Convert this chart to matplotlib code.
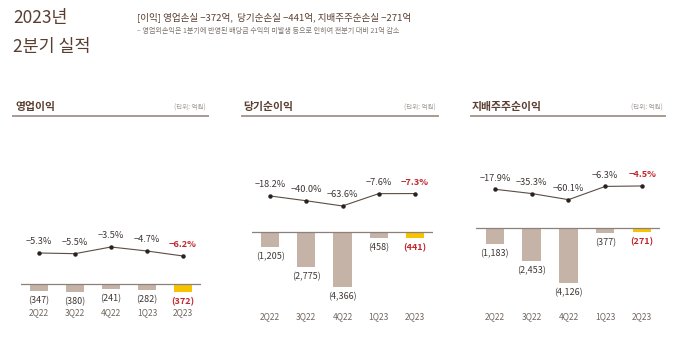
import matplotlib.pyplot as plt
import matplotlib.transforms as mtransforms

plt.rcParams['font.family'] = ['Noto Sans CJK KR', 'DejaVu Sans']

quarters = ['2Q22', '3Q22', '4Q22', '1Q23', '2Q23']

op_titles = ['영업이익', '당기순이익', '지배주주순이익']
op_values = [-347, -380, -241, -282, -372]
op_margin = [-5.3, -5.5, -3.5, -4.7, -6.2]
net_values = [-1205, -2775, -4366, -458, -441]
net_margin = [-18.2, -40.0, -63.6, -7.6, -7.3]
ctrl_values = [-1183, -2453, -4126, -377, -271]
ctrl_margin = [-17.9, -35.3, -60.1, -6.3, -4.5]

W, H = 680, 341
BROWN = '#5a3f31'
BAR = '#c5b3a8'
LAST = '#f7c300'
RED = '#c1272d'
TEXT = '#3f3835'

fig = plt.figure(figsize=(W / 100, H / 100), dpi=100)

# header
fig.text(13 / W, 1 - 18 / H, '2023년', fontsize=12.5, color=BROWN, va='center')
fig.text(13 / W, 1 - 47 / H, '2분기 실적', fontsize=12.5, color=BROWN, va='center')
fig.text(137 / W, 1 - 17 / H,
         '[이익] 영업손실 \u2212372억,  당기순손실 \u2212441억, 지배주주순손실 \u2212271억',
         fontsize=6.9, color=BROWN, va='center')
fig.text(137 / W, 1 - 31.5 / H,
         '\u2013 영업외손익은 1분기에 반영된 배당금 수익의 미발생 등으로 인하여 전분기 대비 21억 감소',
         fontsize=5.1, color='#7d726c', va='center')


def px(x0, y0, w, h):
    return [x0 / W, 1 - (y0 + h) / H, w / W, h / H]


# (title, values, margins, title x, line x0, line x1, axes left, axes width,
#  bar ylim, line ylim, x-label y px)
panels = [
    (op_titles[0], op_values, op_margin, 15, 13, 208, 21, 180,
     (-1907, 7394), (-26.9, 33.1), 313),
    (op_titles[1], net_values, net_margin, 243, 242, 438, 252, 181,
     (-7384, 8496), (-604, 304), 317),
    (op_titles[2], ctrl_values, ctrl_margin, 472, 471, 665, 476.5, 184,
     (-7275, 7725), (-569, 243), 317),
]

for title, vals, margin, tx, lx0, lx1, axl, axw, ylim, ylim2, xly in panels:
    fig.text(tx / W, 1 - 107 / H, title, fontsize=7.8, fontweight='bold',
             color=BROWN, va='center')
    fig.text(lx1 / W - 2 / W, 1 - 108 / H, '(단위: 억원)', fontsize=4.7,
             color='#a59b95', va='center', ha='right')
    fig.add_artist(plt.Line2D([lx0 / W, lx1 / W], [1 - 116.5 / H] * 2,
                              color='#a89a8f', lw=1.4))

    ax = fig.add_axes(px(axl, 125, axw, 200))
    x = range(len(quarters))
    colors = [BAR] * (len(vals) - 1) + [LAST]
    ax.bar(x, vals, width=0.5, color=colors, zorder=2)
    ax.axhline(0, color='#8c817a', lw=0.9, zorder=3)
    ax.set_xlim(-0.5, len(quarters) - 0.5)
    ax.set_ylim(*ylim)
    ax.axis('off')

    for i, v in enumerate(vals):
        last = i == len(vals) - 1
        ax.annotate(f'({abs(v):,})', (i, v), xytext=(0, -7), textcoords='offset points',
                    ha='center', va='center', fontsize=6.5,
                    color=RED if last else TEXT,
                    fontweight='bold' if last else 'normal')

    trans = mtransforms.blended_transform_factory(ax.transData, fig.transFigure)
    for i, q in enumerate(quarters):
        ax.text(i, 1 - xly / H, q, transform=trans, ha='center', va='center',
                fontsize=6.1, color='#6f6660')

    ax2 = ax.twinx()
    ax2.plot(x, margin, color='#5b4d46', lw=0.8, marker='o', markersize=2.2,
             markerfacecolor='#2b2220', markeredgecolor='#2b2220', zorder=4)
    ax2.set_ylim(*ylim2)
    ax2.axis('off')
    for i, m in enumerate(margin):
        last = i == len(margin) - 1
        ax2.annotate(f'\u2212{abs(m):.1f}%', (i, m), xytext=(0, 8),
                     textcoords='offset points', ha='center', va='center',
                     fontsize=6.6, color=RED if last else TEXT,
                     fontweight='bold' if last else 'normal')

fig.savefig('out.png', dpi=100)
